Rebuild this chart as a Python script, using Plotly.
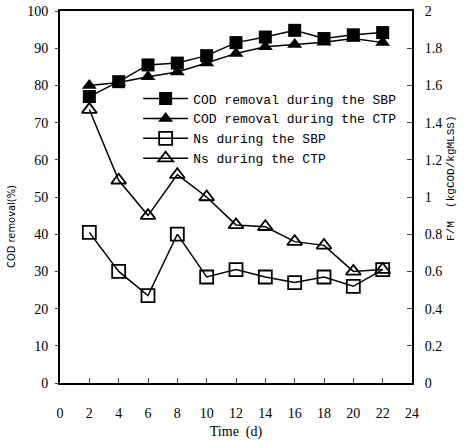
import plotly.graph_objects as go

days = [2, 4, 6, 8, 10, 12, 14, 16, 18, 20, 22]
cod_sbp = [77.0, 81.0, 85.5, 86.0, 88.0, 91.5, 93.0, 94.8, 92.6, 93.6, 94.2]
cod_ctp = [80.0, 80.8, 82.3, 83.6, 86.0, 88.6, 90.4, 91.0, 91.6, 92.6, 91.5]
ns_sbp = [0.81, 0.60, 0.47, 0.80, 0.57, 0.61, 0.57, 0.54, 0.57, 0.52, 0.61]
ns_ctp = [1.47, 1.09, 0.90, 1.12, 1.00, 0.85, 0.84, 0.76, 0.74, 0.60, 0.61]

x_ticks = list(range(0, 25, 2))
y_ticks = list(range(0, 101, 10))
y2_ticks = [0, 0.2, 0.4, 0.6, 0.8, 1, 1.2, 1.4, 1.6, 1.8, 2]
y2_labels = ["0", "0.2", "0.4", "0.6", "0.8", "1", "1.2", "1.4", "1.6", "1.8", "2"]

serif = "Liberation Serif"
mono = "Liberation Mono"

fig = go.Figure()
fig.add_trace(go.Scatter(x=days, y=cod_sbp, mode="lines+markers",
                         name="COD removal during the SBP",
                         line=dict(color="black", width=1.5),
                         marker=dict(symbol="square", size=13, color="black")))
fig.add_trace(go.Scatter(x=days, y=cod_ctp, mode="lines+markers",
                         name="COD removal during the CTP",
                         line=dict(color="black", width=1.5),
                         marker=dict(symbol="triangle-up", size=13, color="black")))
fig.add_trace(go.Scatter(x=days, y=ns_sbp, mode="lines+markers", yaxis="y2",
                         name="Ns during the SBP",
                         line=dict(color="black", width=1.5),
                         marker=dict(symbol="square-open", size=13, color="black",
                                     line=dict(width=1.8))))
fig.add_trace(go.Scatter(x=days, y=ns_ctp, mode="lines+markers", yaxis="y2",
                         name="Ns during the CTP",
                         line=dict(color="black", width=1.5),
                         marker=dict(symbol="triangle-up-open", size=13, color="black",
                                     line=dict(width=1.8))))

fig.update_layout(
    width=472, height=441,
    margin=dict(l=60, r=60, t=11, b=58),
    paper_bgcolor="white", plot_bgcolor="white",
    font=dict(family=serif, size=14, color="black"),
    showlegend=True,
    legend=dict(x=0.222, y=0.805, xanchor="left", yanchor="top",
                bgcolor="rgba(0,0,0,0)", font=dict(family=mono, size=13),
                tracegroupgap=0, itemwidth=45),
    xaxis=dict(range=[0, 24], tickvals=x_ticks, ticks="inside", ticklen=5,
               showline=True, linecolor="black", linewidth=2, mirror=True,
               showgrid=False, zeroline=False, ticklabelstandoff=16, automargin=False,
               title=dict(text="Time  (d)", font=dict(family=serif, size=14), standoff=6)),
    yaxis=dict(range=[0, 100], tickvals=y_ticks, ticks="outside", ticklen=3,
               showline=True, linecolor="black", linewidth=2, mirror=True,
               showgrid=False, zeroline=False, ticklabelstandoff=4, automargin=False),
    yaxis2=dict(range=[0, 2], tickvals=y2_ticks, ticktext=y2_labels, overlaying="y",
                side="right", ticks="inside", ticklen=5, showline=True,
                linecolor="black", linewidth=2, showgrid=False, zeroline=False,
                ticklabelstandoff=8, automargin=False),
)

fig.add_annotation(text="COD removal(%)", xref="paper", yref="paper",
                   x=-0.16, y=0.42, textangle=-90, showarrow=False,
                   font=dict(family="DejaVu Sans Condensed", size=11))
fig.add_annotation(text="F/M  (kgCOD/kgMLSS)", xref="paper", yref="paper",
                   x=1.135, y=0.55, textangle=-90, showarrow=False,
                   font=dict(family=mono, size=11))

fig.write_html("out.html")
